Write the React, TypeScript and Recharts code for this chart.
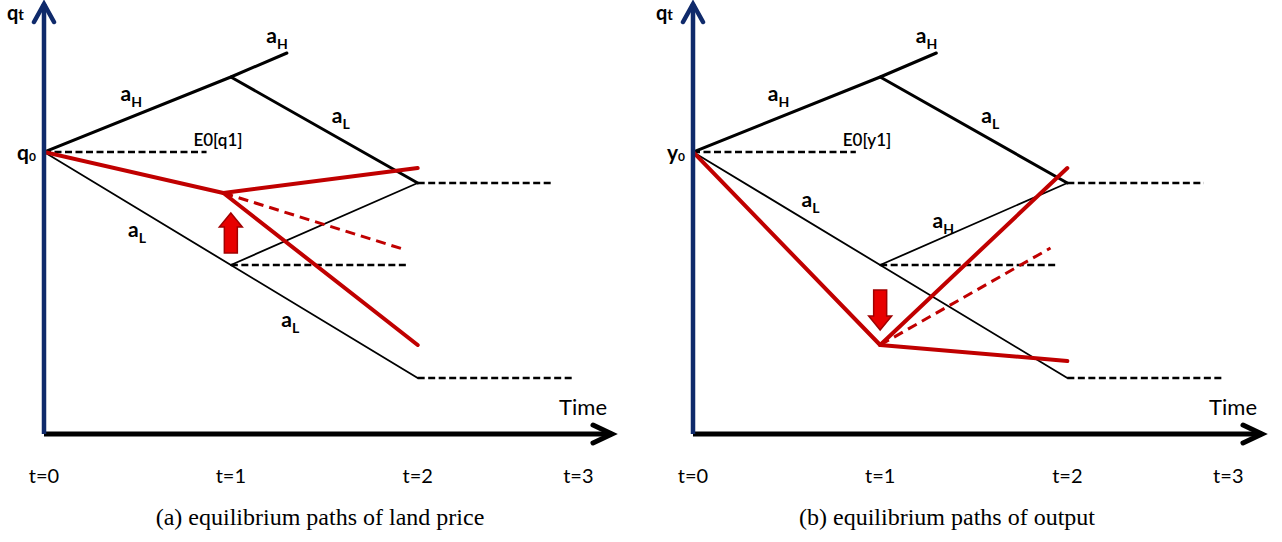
import React from "react";
import { LineChart, Line, XAxis, YAxis, ReferenceDot } from "recharts";

type Pt = { t: number; v: number };

// time axis: t=3 label sits a bit left of an even spacing in the original
const timeTicks = [0, 1, 2, 2.86];
const timeLabels = ["t=0", "t=1", "t=2", "t=3"];
const startLevel = 2.82;

// ---- panel (a): land price ----
const landHigh: Pt[] = [{ t: 0, v: 2.82 }, { t: 1, v: 3.57 }, { t: 1.3, v: 3.81 }];
const landHighThenLow: Pt[] = [{ t: 1, v: 3.57 }, { t: 2, v: 2.51 }];
const landLow: Pt[] = [{ t: 0, v: 2.82 }, { t: 1, v: 1.69 }, { t: 2, v: 0.56 }];
const landLowThenHigh: Pt[] = [{ t: 1, v: 1.69 }, { t: 2, v: 2.51 }];
const landExpect: Pt[] = [{ t: 0, v: 2.82 }, { t: 0.87, v: 2.82 }];
const landFlatMid: Pt[] = [{ t: 1, v: 1.69 }, { t: 1.95, v: 1.69 }];
const landFlatTop: Pt[] = [{ t: 2, v: 2.51 }, { t: 2.73, v: 2.51 }];
const landFlatLow: Pt[] = [{ t: 2, v: 0.56 }, { t: 2.83, v: 0.56 }];
const landRedIn: Pt[] = [{ t: 0, v: 2.82 }, { t: 0.96, v: 2.41 }];
const landRedUp: Pt[] = [{ t: 0.96, v: 2.41 }, { t: 2, v: 2.66 }];
const landRedDown: Pt[] = [{ t: 0.96, v: 2.41 }, { t: 2, v: 0.89 }];
const landRedExp: Pt[] = [{ t: 0.96, v: 2.41 }, { t: 1.92, v: 1.85 }];
const landLabels = [
  { t: 0.41, v: 3.33, main: "a", sub: "H" },
  { t: 1.19, v: 3.91, main: "a", sub: "H" },
  { t: 1.54, v: 3.11, main: "a", sub: "L" },
  { t: 0.45, v: 1.97, main: "a", sub: "L" },
  { t: 1.27, v: 1.07, main: "a", sub: "L" },
];
const landExpectLabel = { t: 0.8, v: 2.88, text: "E0[q1]" };
const landShock = { t: 1.0, v: 2.21, dir: "up" };

// ---- panel (b): output ----
const outHigh: Pt[] = [{ t: 0, v: 2.82 }, { t: 1, v: 3.57 }, { t: 1.3, v: 3.81 }];
const outHighThenLow: Pt[] = [{ t: 1, v: 3.57 }, { t: 2, v: 2.51 }];
const outLow: Pt[] = [{ t: 0, v: 2.82 }, { t: 1, v: 1.69 }, { t: 2, v: 0.56 }];
const outLowThenHigh: Pt[] = [{ t: 1, v: 1.69 }, { t: 2, v: 2.51 }];
const outExpect: Pt[] = [{ t: 0, v: 2.82 }, { t: 0.87, v: 2.82 }];
const outFlatMid: Pt[] = [{ t: 1, v: 1.69 }, { t: 1.94, v: 1.69 }];
const outFlatTop: Pt[] = [{ t: 2, v: 2.51 }, { t: 2.73, v: 2.51 }];
const outFlatLow: Pt[] = [{ t: 2, v: 0.56 }, { t: 2.83, v: 0.56 }];
const outRedIn: Pt[] = [{ t: 0, v: 2.82 }, { t: 1, v: 0.89 }];
const outRedLow: Pt[] = [{ t: 1, v: 0.89 }, { t: 2, v: 0.73 }];
const outRedHigh: Pt[] = [{ t: 1, v: 0.89 }, { t: 2, v: 2.66 }];
const outRedExp: Pt[] = [{ t: 1, v: 0.89 }, { t: 1.91, v: 1.86 }];
const outLabels = [
  { t: 0.4, v: 3.33, main: "a", sub: "H" },
  { t: 1.19, v: 3.91, main: "a", sub: "H" },
  { t: 1.54, v: 3.11, main: "a", sub: "L" },
  { t: 0.58, v: 2.27, main: "a", sub: "L" },
  { t: 1.28, v: 2.06, main: "a", sub: "H" },
];
const outExpectLabel = { t: 0.8, v: 2.88, text: "E0[y1]" };
const outShock = { t: 1.0, v: 1.04, dir: "down" };

const X_MAX = 3.04;
const Y_MAX = 4.3;
const RED = "#c00000";
const NAVY = "#0f2a6b";
const SANS = "Lato, 'Open Sans', sans-serif";
const AXIS_W = 40;
const AXIS_H = 30;

const lineProps = {
  type: "linear" as const,
  dataKey: "v",
  dot: false,
  activeDot: false,
  isAnimationActive: false,
  strokeLinecap: "round" as const,
};

const SubLabel = (main: string, sub: string) => (p: any) => (
  <text x={p.cx} y={p.cy} fontFamily={SANS} fontWeight={700} fill="#000">
    <tspan fontSize={21}>{main}</tspan>
    <tspan fontSize={14} dy={6}>{sub}</tspan>
  </text>
);

const PlainLabel = (text: string) => (p: any) => (
  <text x={p.cx} y={p.cy} fontFamily={SANS} fontWeight={600} fontSize={17} fill="#000">
    {text}
  </text>
);

const BlockArrow = (dir: string) => (p: any) => {
  const s = dir === "up" ? 1 : -1;
  const { cx, cy } = p;
  const pts = [
    [cx, cy],
    [cx + 11.5, cy + 14 * s],
    [cx + 6.5, cy + 14 * s],
    [cx + 6.5, cy + 40 * s],
    [cx - 6.5, cy + 40 * s],
    [cx - 6.5, cy + 14 * s],
    [cx - 11.5, cy + 14 * s],
  ]
    .map((q) => q.join(","))
    .join(" ");
  return <polygon points={pts} fill="#e80000" stroke="#a00000" strokeWidth={1.5} strokeLinejoin="miter" />;
};

const YTip = (name: string) => (p: any) => (
  <g>
    <polyline
      points={`${p.cx - 10},${p.cy + 18} ${p.cx},${p.cy} ${p.cx + 10},${p.cy + 18}`}
      fill="none"
      stroke={NAVY}
      strokeWidth={4.5}
      strokeLinecap="round"
      strokeLinejoin="miter"
    />
    <text x={p.cx - 37} y={p.cy + 16} fontFamily={SANS} fontWeight={700} fill="#000">
      <tspan fontSize={20}>q</tspan>
      <tspan fontSize={15}>{name}</tspan>
    </text>
  </g>
);

const XTip = (p: any) => (
  <g>
    <polyline
      points={`${p.cx - 19},${p.cy - 9} ${p.cx},${p.cy} ${p.cx - 19},${p.cy + 9}`}
      fill="none"
      stroke="#000"
      strokeWidth={5}
      strokeLinecap="round"
      strokeLinejoin="miter"
    />
    <text x={p.cx - 5} y={p.cy - 19} textAnchor="end" fontFamily={SANS} fontSize={22} fill="#000">
      Time
    </text>
  </g>
);

const TimeTick = (p: any) => {
  const i = timeTicks.findIndex((v) => Math.abs(v - p.payload.value) < 1e-6);
  return (
    <text x={p.x} y={p.y + 49} textAnchor="middle" fontFamily={SANS} fontSize={20} fill="#000">
      {timeLabels[i]}
    </text>
  );
};

const StartTick = (letter: string) => (p: any) => (
  <text x={p.x - 8} y={p.y + 8} textAnchor="end" fontFamily={SANS} fontWeight={700} fill="#000">
    <tspan fontSize={21}>{letter}</tspan>
    <tspan fontSize={12} dy={1}>0</tspan>
  </text>
);

type PanelProps = {
  width: number;
  left: number;
  right: number;
  letter: string;
  black: { thick: Pt[][]; thin: Pt[][]; dashed: Pt[][] };
  red: { solid: Pt[][]; dashed: Pt[][] };
  labels: { t: number; v: number; main: string; sub: string }[];
  expect: { t: number; v: number; text: string };
  shock: { t: number; v: number; dir: string };
};

const Panel = ({ width, left, right, letter, black, red, labels, expect, shock }: PanelProps) => (
  <LineChart
    width={width}
    height={542}
    margin={{ top: 4, right, bottom: 108 - AXIS_H, left: left - AXIS_W }}
  >
    <XAxis
      dataKey="t"
      type="number"
      domain={[0, X_MAX]}
      ticks={timeTicks}
      interval={0}
      allowDataOverflow
      height={AXIS_H}
      tickSize={0}
      tickMargin={0}
      tickLine={false}
      tick={TimeTick}
      axisLine={{ stroke: "#000", strokeWidth: 5 }}
    />
    <YAxis
      type="number"
      domain={[0, Y_MAX]}
      ticks={[startLevel]}
      interval={0}
      allowDataOverflow
      width={AXIS_W}
      tickSize={0}
      tickMargin={0}
      tickLine={false}
      tick={StartTick(letter)}
      axisLine={{ stroke: NAVY, strokeWidth: 4.5 }}
    />
    {black.thick.map((d, i) => (
      <Line key={`k${i}`} {...lineProps} data={d} stroke="#000" strokeWidth={3} />
    ))}
    {black.thin.map((d, i) => (
      <Line key={`n${i}`} {...lineProps} data={d} stroke="#000" strokeWidth={1.8} />
    ))}
    {black.dashed.map((d, i) => (
      <Line
        key={`d${i}`}
        {...lineProps}
        strokeLinecap="butt"
        data={d}
        stroke="#000"
        strokeWidth={2.6}
        strokeDasharray="7 3.5"
      />
    ))}
    {red.dashed.map((d, i) => (
      <Line
        key={`rd${i}`}
        {...lineProps}
        strokeLinecap="butt"
        data={d}
        stroke={RED}
        strokeWidth={3}
        strokeDasharray="10 6"
      />
    ))}
    {red.solid.map((d, i) => (
      <Line key={`r${i}`} {...lineProps} data={d} stroke={RED} strokeWidth={4} />
    ))}
    {labels.map((l, i) => (
      <ReferenceDot key={`l${i}`} x={l.t} y={l.v} ifOverflow="visible" shape={SubLabel(l.main, l.sub)} />
    ))}
    <ReferenceDot x={expect.t} y={expect.v} ifOverflow="visible" shape={PlainLabel(expect.text)} />
    <ReferenceDot x={shock.t} y={shock.v} ifOverflow="visible" shape={BlockArrow(shock.dir)} />
    <ReferenceDot x={0} y={Y_MAX} ifOverflow="visible" shape={YTip("t")} />
    <ReferenceDot x={X_MAX} y={0} ifOverflow="visible" shape={XTip} />
  </LineChart>
);

const captionStyle: React.CSSProperties = {
  position: "absolute",
  top: 504,
  fontFamily: "'Liberation Serif', 'DejaVu Serif', serif",
  fontSize: 24,
  color: "#000",
  textAlign: "center",
  whiteSpace: "nowrap",
};

export default function App() {
  return (
    <div style={{ position: "absolute", left: 0, top: 0, width: 1282, height: 542, background: "#fff" }}>
      <div style={{ position: "absolute", left: 0, top: 0 }}>
        <Panel
          width={640}
          left={44}
          right={28}
          letter="q"
          black={{
            thick: [landHigh, landHighThenLow],
            thin: [landLow, landLowThenHigh],
            dashed: [landExpect, landFlatMid, landFlatTop, landFlatLow],
          }}
          red={{ solid: [landRedIn, landRedUp, landRedDown], dashed: [landRedExp] }}
          labels={landLabels}
          expect={landExpectLabel}
          shock={landShock}
        />
      </div>
      <div style={{ position: "absolute", left: 640, top: 0 }}>
        <Panel
          width={642}
          left={53}
          right={20}
          letter="y"
          black={{
            thick: [outHigh, outHighThenLow],
            thin: [outLow, outLowThenHigh],
            dashed: [outExpect, outFlatMid, outFlatTop, outFlatLow],
          }}
          red={{ solid: [outRedIn, outRedLow, outRedHigh], dashed: [outRedExp] }}
          labels={outLabels}
          expect={outExpectLabel}
          shock={outShock}
        />
      </div>
      <div style={{ ...captionStyle, left: 120, width: 400 }}>(a) equilibrium paths of land price</div>
      <div style={{ ...captionStyle, left: 747, width: 400 }}>(b) equilibrium paths of output</div>
    </div>
  );
}
